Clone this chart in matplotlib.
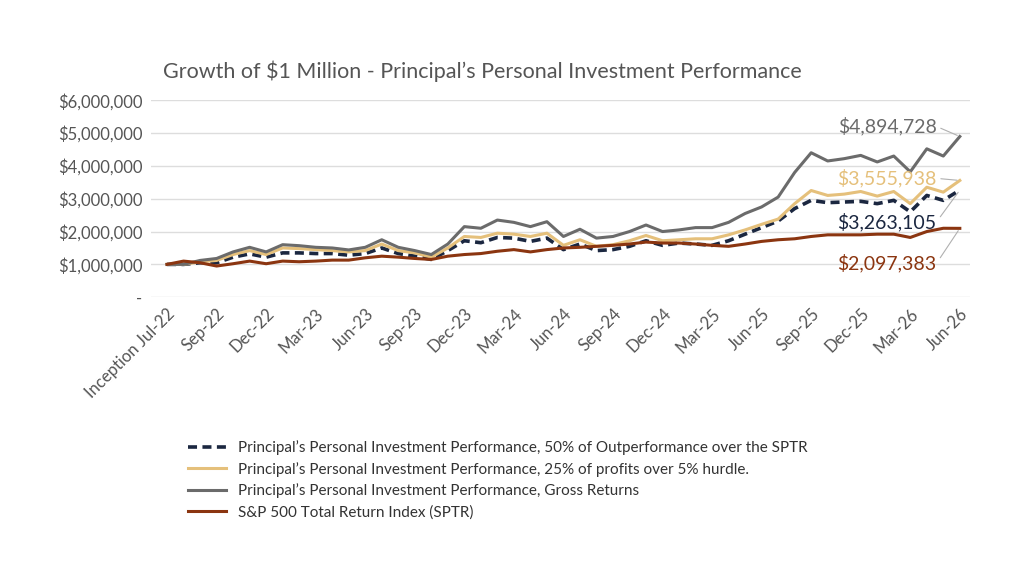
import matplotlib
matplotlib.use("Agg")
import matplotlib.pyplot as plt
from matplotlib.ticker import FuncFormatter

cats = ["Inception"]
mn = ["Jan","Feb","Mar","Apr","May","Jun","Jul","Aug","Sep","Oct","Nov","Dec"]
for i in range(48):
    m = (6 + i) % 12; y = 22 + (6 + i) // 12
    cats.append(f"{mn[m]}-{y}")
tick_labels = ["Inception Jul-22" if i == 0 else cats[i] for i in range(0, 49, 3)]

gross = [1.0,1.0,1.12,1.18,1.38,1.52,1.38,1.6,1.57,1.52,1.5,1.44,1.52,1.75,1.52,1.42,1.3,1.62,2.15,2.1,2.35,2.28,2.15,2.3,1.85,2.07,1.8,1.85,2.0,2.2,2.0,2.05,2.12,2.12,2.28,2.55,2.75,3.05,3.8,4.4,4.15,4.22,4.32,4.12,4.3,3.82,4.52,4.3,4.894728]
hurdle = [1.0,1.0,1.08,1.12,1.3,1.42,1.3,1.5,1.48,1.45,1.42,1.38,1.42,1.62,1.42,1.35,1.22,1.5,1.85,1.82,1.95,1.92,1.85,1.95,1.58,1.75,1.55,1.6,1.72,1.88,1.72,1.75,1.78,1.78,1.9,2.05,2.22,2.38,2.85,3.25,3.1,3.14,3.22,3.08,3.22,2.85,3.35,3.2,3.555938]
outperf = [1.0,1.0,1.05,1.05,1.22,1.32,1.22,1.35,1.35,1.33,1.33,1.28,1.33,1.5,1.33,1.25,1.15,1.42,1.72,1.66,1.82,1.8,1.7,1.8,1.45,1.62,1.42,1.45,1.55,1.72,1.58,1.65,1.62,1.58,1.72,1.92,2.12,2.32,2.7,2.95,2.88,2.9,2.92,2.85,2.95,2.6,3.1,2.95,3.263105]
sptr = [1.0,1.1,1.05,0.95,1.02,1.1,1.02,1.1,1.08,1.1,1.13,1.13,1.2,1.25,1.22,1.18,1.15,1.25,1.3,1.33,1.4,1.45,1.38,1.45,1.5,1.52,1.55,1.58,1.62,1.68,1.65,1.65,1.62,1.58,1.55,1.62,1.7,1.75,1.78,1.85,1.9,1.9,1.9,1.92,1.92,1.82,2.0,2.1,2.097383]

names = ["Principal’s Personal Investment Performance, 50% of Outperformance over the SPTR",
         "Principal’s Personal Investment Performance, 25% of profits over 5% hurdle.",
         "Principal’s Personal Investment Performance, Gross Returns",
         "S&P 500 Total Return Index (SPTR)"]
colors = ["#1b2740", "#e5c07b", "#6b6b6b", "#8b3510"]

plt.rcParams['font.family'] = ['Lato', 'DejaVu Sans']
fig = plt.figure(figsize=(10.24, 5.76), dpi=100)
ax = fig.add_axes([0.147, 0.484, 0.8, 0.342])
x = list(range(49))
series = [outperf, hurdle, gross, sptr]
ls = ["--", "-", "-", "-"]
for s, c, l, n in zip(series, colors, ls, names):
    ax.plot(x, [v * 1e6 for v in s], color=c, ls=l, lw=2.6 if l == "--" else 2.2, label=n,
            dashes=(2.5, 1.5) if l == "--" else (None, None), zorder=3)

ax.set_ylim(0, 6e6)
ax.set_xlim(-1, 48.6)
ax.set_yticks([i * 1e6 for i in range(7)])
ax.yaxis.set_major_formatter(FuncFormatter(lambda v, p: "-" if v == 0 else f"${v:,.0f}"))
ax.set_xticks(range(0, 49, 3))
ax.set_xticklabels(tick_labels, rotation=45, ha="right", rotation_mode="anchor")
ax.tick_params(length=0, labelsize=12, colors="#555555", pad=6)
ax.grid(axis="y", color="#dddddd", lw=1)
ax.set_axisbelow(True)
for sp in ax.spines.values():
    sp.set_visible(False)

fig.text(0.159, 0.865, "Growth of $1 Million - Principal’s Personal Investment Performance",
         fontsize=15.5, color="#555555")

labels = [(gross, colors[2], 5.2e6), (hurdle, colors[1], 3.62e6),
          (outperf, colors[0], 2.3e6), (sptr, colors[3], 1.04e6)]
for s, c, ty in labels:
    ax.annotate(f"${s[-1]*1e6:,.0f}", xy=(48, s[-1] * 1e6), xytext=(46.6, ty),
                ha="right", va="center", fontsize=14, color=c,
                arrowprops=dict(arrowstyle="-", color="#b0b0b0", lw=0.8, relpos=(1, 0.5),
                                shrinkA=1, shrinkB=2))

fig.legend(loc="upper left", bbox_to_anchor=(0.17, 0.26), frameon=False, fontsize=11,
           handlelength=2.5, labelspacing=0.45, labelcolor="#333333")
fig.savefig("out.png", dpi=100)
